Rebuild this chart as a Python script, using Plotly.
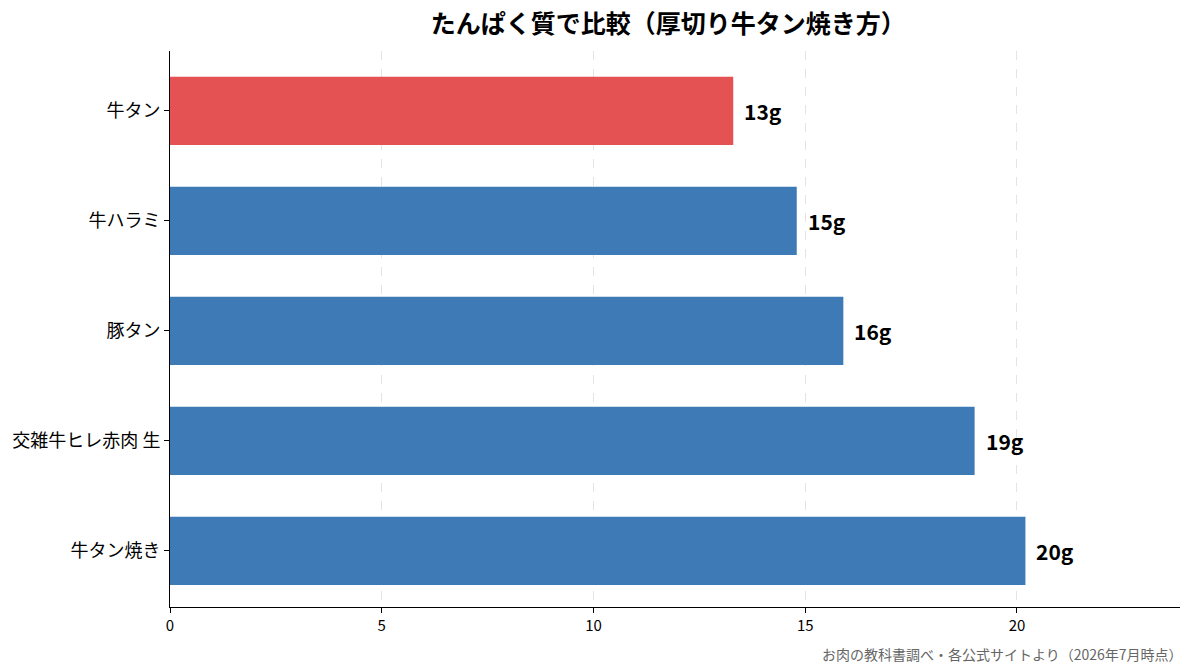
import plotly.graph_objects as go

# データ（上から順）
items = ["牛タン", "牛ハラミ", "豚タン", "交雑牛ヒレ赤肉 生", "牛タン焼き"]
protein = [13.3, 14.8, 15.9, 19.0, 20.2]
labels = ["13g", "15g", "16g", "19g", "20g"]
colors = ["#E55253", "#3E7BB6", "#3E7BB6", "#3E7BB6", "#3E7BB6"]

FONT = "Noto Sans CJK JP"

fig = go.Figure(go.Bar(
    x=protein,
    y=items,
    orientation="h",
    marker=dict(color=colors, line=dict(width=0)),
    width=0.62,
    hoverinfo="x+y",
))

# 値ラベル（棒の右側）
for name, val, lab in zip(items, protein, labels):
    fig.add_annotation(
        x=val, y=name, text="<b>" + lab + "</b>", showarrow=False,
        xanchor="left", yanchor="middle", xshift=9,
        font=dict(family=FONT, size=21, color="black"),
    )

# ページ余白(8px)ぶん小さめにする
fig.update_layout(
    width=1177, height=656,
    margin=dict(l=162, r=5, t=43, b=57),
    paper_bgcolor="white", plot_bgcolor="white",
    font=dict(family=FONT, color="black"),
    title=dict(text="<b>たんぱく質で比較（厚切り牛タン焼き方）</b>",
               x=0.561, xanchor="center", y=0.976, yanchor="middle",
               font=dict(size=25, family=FONT)),
    showlegend=False,
)
fig.update_xaxes(
    range=[0, 23.85], tickvals=[0, 5, 10, 15, 20],
    showline=True, linecolor="black", linewidth=1,
    ticks="outside", ticklen=5, tickcolor="black",
    showgrid=True, gridcolor="#e4e4e4", griddash="dash", gridwidth=1,
    zeroline=False, tickfont=dict(size=15), automargin=False,
)
fig.update_yaxes(
    range=[4.51, -0.545],
    showline=True, linecolor="black", linewidth=1,
    ticks="outside", ticklen=5, tickcolor="black",
    showgrid=False, tickfont=dict(size=18), automargin=False,
)
fig.add_annotation(
    text="お肉の教科書調べ・各公式サイトより（2026年7月時点）",
    xref="paper", yref="paper", x=1.005, y=-0.085,
    xanchor="right", yanchor="middle", showarrow=False,
    font=dict(size=14, color="#666666", family=FONT),
)

fig.write_html("out.html")
